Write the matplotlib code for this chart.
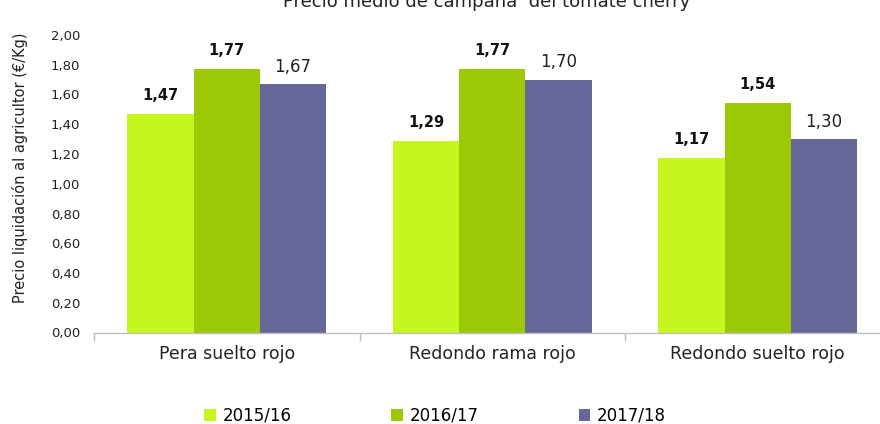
import matplotlib
matplotlib.use("Agg")
import matplotlib.pyplot as plt
import numpy as np
from matplotlib.patches import Patch

categories = ["Pera suelto rojo", "Redondo rama rojo", "Redondo suelto rojo"]
seasons = ["2015/16", "2016/17", "2017/18"]
v1516 = [1.47, 1.29, 1.17]
v1617 = [1.77, 1.77, 1.54]
v1718 = [1.67, 1.70, 1.30]
yticks = [0.0, 0.2, 0.4, 0.6, 0.8, 1.0, 1.2, 1.4, 1.6, 1.8, 2.0]

colors = ["#C5F71F", "#9CC905", "#666699"]
series = [v1516, v1617, v1718]
bold = [True, True, False]

plt.rcParams['font.family'] = ['DejaVu Sans']
fig = plt.figure(figsize=(8.8, 4.24), dpi=100)
ax = fig.add_axes([94/880, 1-332.5/424, (890.5-94)/880, (332.5-35)/424])

x = np.arange(len(categories)) + 0.5
w = 0.25
for i, (vals, c) in enumerate(zip(series, colors)):
    pos = x + (i - 1) * w
    ax.bar(pos, vals, width=w, color=c, label=seasons[i], zorder=2)
    for p, v in zip(pos, vals):
        txt = f"{v:.2f}".replace(".", ",")
        if bold[i]:
            ax.annotate(txt, (p, v), xytext=(0, 8), textcoords="offset points",
                        ha="center", va="bottom", fontsize=10.5, fontweight="bold", color="#111111")
        else:
            ax.annotate(txt, (p, v), xytext=(0, 6), textcoords="offset points",
                        ha="center", va="bottom", fontsize=12, color="#222222")

ax.set_xlim(0, 3)
ax.set_ylim(0, 2.0)
ax.set_yticks(yticks)
ax.set_yticklabels([f"{t:.2f}".replace(".", ",") for t in yticks], fontsize=9.5, color="#222222")
ax.tick_params(axis="y", length=0, pad=10)
ax.set_xticks([0, 1, 2, 3])
ax.set_xticklabels([])
ax.set_xticks(x, minor=True)
ax.set_xticklabels(categories, minor=True, fontsize=12.5, color="#222222")
ax.tick_params(axis="x", which="major", length=6, color="#BFBFBF", width=1)
ax.tick_params(axis="x", which="minor", length=0, pad=9)
for s in ["left", "top", "right"]:
    ax.spines[s].set_visible(False)
ax.spines["bottom"].set_color("#BFBFBF")
ax.spines["bottom"].set_linewidth(1)

fig.text(12/880, 1-168/424, "Precio liquidación al agricultor (€/Kg)", rotation=90,
         ha="left", va="center", fontsize=10.5, color="#222222")

fig.text(487/880, 1-7/424, "Precio medio de campaña  del tomate cherry",
         ha="center", va="baseline", fontsize=13, color="#222222")

handles = [Patch(facecolor=c, edgecolor="none") for c in colors]
fig.legend(handles, seasons, loc="center", bbox_to_anchor=(435/880, 1-416/424), ncol=3,
           frameon=False, fontsize=12, handlelength=0.7, handleheight=0.7,
           handletextpad=0.4, columnspacing=6.0)

fig.savefig("out.png", dpi=100)
